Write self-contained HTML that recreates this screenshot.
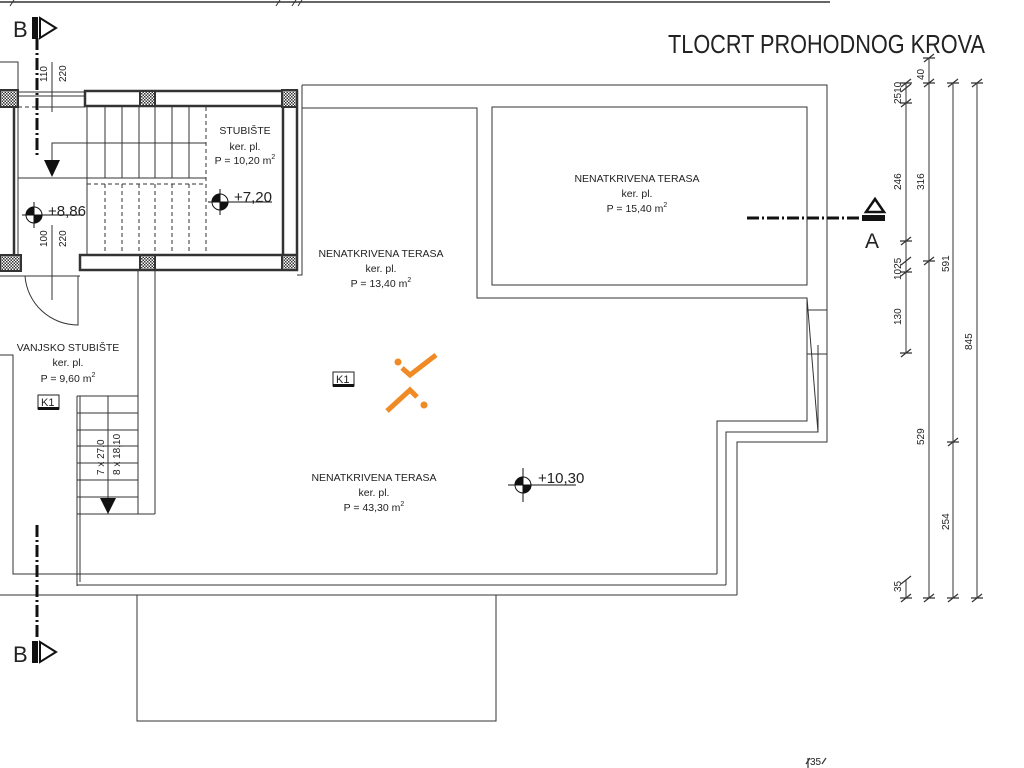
<!DOCTYPE html>
<html><head><meta charset="utf-8"><style>
html,body{margin:0;padding:0;background:#fff;}
svg{display:block;}
text{font-family:"Liberation Sans",sans-serif;fill:#222;}
</style></head><body>
<svg width="1024" height="768" viewBox="0 0 1024 768" xmlns="http://www.w3.org/2000/svg">
<defs>
<pattern id="h" width="3" height="3" patternUnits="userSpaceOnUse">
<rect width="3" height="3" fill="#fff"/><rect width="1.5" height="1.5" fill="#333"/><rect x="1.5" y="1.5" width="1.5" height="1.5" fill="#333"/>
</pattern>
</defs>
<g stroke="#333" fill="none" stroke-width="1">
<!-- top line -->
<line x1="0" y1="2" x2="830" y2="2" stroke-width="1.5"/>
<path d="M10,6 L14,0 M276,6 L280,0 M292,6 L296,0 M298,6 L302,0"/>
<!-- small left box -->
<path d="M0,62 H18 V92"/>
<!-- stair top wall -->
<rect x="85" y="91" width="212" height="15" stroke-width="2.5"/>
<line x1="18" y1="92" x2="85" y2="92"/><line x1="18" y1="96" x2="85" y2="96"/>
<rect x="0" y="90" width="18" height="17" fill="url(#h)" stroke-width="2"/>
<rect x="140" y="91" width="15" height="15" fill="url(#h)" stroke-width="2"/>
<rect x="282" y="90" width="15" height="17" fill="url(#h)" stroke-width="2"/>
<!-- left & right walls -->
<line x1="14" y1="107" x2="14" y2="254" stroke-width="2.5"/>
<line x1="18" y1="107" x2="18" y2="254"/>
<line x1="283" y1="107" x2="283" y2="254" stroke-width="2.5"/>
<line x1="297" y1="107" x2="297" y2="254" stroke-width="2.5"/>
<path d="M302,85 V275 H297"/>
<!-- bottom wall -->
<rect x="80" y="255" width="217" height="15" stroke-width="2.5"/>
<rect x="0" y="255" width="21" height="16" fill="url(#h)" stroke-width="2"/>
<rect x="140" y="255" width="15" height="15" fill="url(#h)" stroke-width="2"/>
<rect x="282" y="255" width="15" height="15" fill="url(#h)" stroke-width="2"/>
<line x1="0" y1="276" x2="80" y2="276"/>
<!-- stairs inside -->
<line x1="18" y1="107" x2="85" y2="107" stroke-dasharray="4,3"/>
<path d="M87,107 V178 M105,107 V178 M122,107 V178 M139,107 V178 M155,107 V178 M172,107 V178 M189,107 V178"/>
<line x1="87" y1="178" x2="87" y2="254"/>
<line x1="18" y1="178" x2="206" y2="178"/>
<line x1="206" y1="107" x2="206" y2="254" stroke-dasharray="4,3"/>
<line x1="87" y1="184" x2="206" y2="184" stroke-dasharray="4,3"/>
<path d="M105,184 V254 M122,184 V254 M139,184 V254 M155,184 V254 M172,184 V254 M189,184 V254" stroke-dasharray="4,3"/>
<path d="M52,160 V143 H206"/>
<!-- door -->
<path d="M25,276 A53,53 0 0 0 78,325 V276"/>
<!-- dim small -->
<path d="M52,62 V112 M43,107 H85"/>
<path d="M52,225 V300"/>
<!-- vertical wall below stairs -->
<line x1="138" y1="270" x2="138" y2="514"/>
<line x1="155" y1="270" x2="155" y2="514"/>
<line x1="138" y1="514" x2="155" y2="514"/>
<!-- exterior stair -->
<path d="M77,396 H138 M77,413 H138 M77,430 H138 M77,446 H138 M77,463 H138 M77,480 H138 M77,497 H138 M77,514 H138"/>
<line x1="108" y1="396" x2="108" y2="514"/>
<line x1="77" y1="396" x2="77" y2="586"/>
<line x1="80" y1="396" x2="80" y2="582"/>
<path d="M0,355 H13 V574 H717"/>
<path d="M77,585 H726"/>
<line x1="0" y1="595" x2="737" y2="595"/>
<rect x="137" y="595" width="359" height="126"/>
<!-- terrace -->
<path d="M302,85 H827 V442 H737 V595"/>
<path d="M302,108 H477 V298 H807 V421 H717 V574"/>
<path d="M818,345 V432 H726 V585"/>
<path d="M807,310 H827 M807,354 H827"/>
<path d="M807,298 L818,432"/>
<rect x="492" y="107" width="315" height="178"/>
<!-- dims right -->
<line x1="906" y1="83" x2="906" y2="353"/>
<line x1="906" y1="580" x2="906" y2="598"/>
<line x1="929" y1="58" x2="929" y2="598"/>
<line x1="953" y1="83" x2="953" y2="598"/>
<line x1="977" y1="83" x2="977" y2="598"/>
<g stroke-width="1.2">
<path d="M901,87 L911,79 M900,83 H912 M901,92 L911,84 M901,107 L911,99 M900,103 H912 M901,245 L911,237 M900,241 H912 M901,265 L911,257 M901,276 L911,268 M900,272 H912 M901,357 L911,349 M900,353 H912 M901,584 L911,576 M901,602 L911,594 M900,598 H912"/>
<path d="M924,62 L934,54 M923,58 H935 M924,87 L934,79 M923,83 H935 M924,265 L934,257 M923,261 H935 M924,602 L934,594 M923,598 H935"/>
<path d="M948,87 L958,79 M947,83 H959 M948,446 L958,438 M947,442 H959 M948,602 L958,594 M947,598 H959"/>
<path d="M972,87 L982,79 M971,83 H983 M972,602 L982,594 M971,598 H983"/>
<path d="M806,764 L810,758 M822,764 L826,758 M808,768 V758"/>
</g>
</g>
<!-- section lines -->
<g stroke="#111" stroke-width="3" fill="none" stroke-dasharray="12,3,2,3">
<line x1="37" y1="38" x2="37" y2="155"/>
<line x1="37" y1="525" x2="37" y2="640"/>
<line x1="747" y1="218" x2="862" y2="218"/>
</g>
<!-- B markers -->
<g>
<rect x="32" y="17" width="6" height="22" fill="#111"/>
<path d="M40,18 L56,28 L40,38 Z" fill="none" stroke="#111" stroke-width="2"/>
<text x="13" y="37" font-size="22">B</text>
<rect x="32" y="641" width="6" height="22" fill="#111"/>
<path d="M40,642 L56,652 L40,662 Z" fill="none" stroke="#111" stroke-width="2"/>
<text x="13" y="662" font-size="22">B</text>
<!-- A marker -->
<rect x="862" y="215" width="23" height="6" fill="#111"/>
<path d="M866,212 L875,199 L884,212 Z" fill="none" stroke="#111" stroke-width="2.5"/>
<text x="865" y="248" font-size="21">A</text>
</g>
<!-- arrows -->
<path d="M44,160 H60 L52,177 Z" fill="#111"/>
<path d="M100,498 H116 L108,514 Z" fill="#111"/>
<!-- level markers -->
<g stroke="#111" stroke-width="1">
<g transform="translate(34,215)"><circle r="8" fill="#fff"/><path d="M0,-8 A8,8 0 0 0 -8,0 H0 Z M0,8 A8,8 0 0 0 8,0 H0 Z" fill="#111"/><path d="M-12,0 H50 M0,-13 V13"/></g>
<g transform="translate(220,202)"><circle r="8" fill="#fff"/><path d="M0,-8 A8,8 0 0 0 -8,0 H0 Z M0,8 A8,8 0 0 0 8,0 H0 Z" fill="#111"/><path d="M-12,0 H52 M0,-13 V13"/></g>
<g transform="translate(523,485)"><circle r="8" fill="#fff"/><path d="M0,-8 A8,8 0 0 0 -8,0 H0 Z M0,8 A8,8 0 0 0 8,0 H0 Z" fill="#111"/><path d="M-15,0 H53 M0,-17 V17"/></g>
</g>
<text x="48" y="216" font-size="15">+8,86</text>
<text x="234" y="202" font-size="15">+7,20</text>
<text x="538" y="483" font-size="15">+10,30</text>
<!-- room labels -->
<g font-size="10.5" text-anchor="middle">
<text x="245" y="134">STUBIŠTE</text>
<text x="245" y="150">ker. pl.</text>
<text x="245" y="164">P = 10,20 m<tspan font-size="7" dy="-5">2</tspan></text>
<text x="68" y="351">VANJSKO STUBIŠTE</text>
<text x="68" y="366">ker. pl.</text>
<text x="68" y="382">P = 9,60 m<tspan font-size="7" dy="-5">2</tspan></text>
<text x="637" y="182">NENATKRIVENA TERASA</text>
<text x="637" y="197">ker. pl.</text>
<text x="637" y="212">P = 15,40 m<tspan font-size="7" dy="-5">2</tspan></text>
<text x="381" y="257">NENATKRIVENA TERASA</text>
<text x="381" y="272">ker. pl.</text>
<text x="381" y="287">P = 13,40 m<tspan font-size="7" dy="-5">2</tspan></text>
<text x="374" y="481">NENATKRIVENA TERASA</text>
<text x="374" y="496">ker. pl.</text>
<text x="374" y="511">P = 43,30 m<tspan font-size="7" dy="-5">2</tspan></text>
</g>
<!-- K1 tags -->
<g font-size="11">
<rect x="38" y="395" width="21" height="14" fill="none" stroke="#222"/><rect x="38" y="407" width="21" height="3" fill="#111"/><text x="41" y="406">K1</text>
<rect x="333" y="372" width="21" height="14" fill="none" stroke="#222"/><rect x="333" y="384" width="21" height="3" fill="#111"/><text x="336" y="383">K1</text>
</g>
<!-- dimension labels rotated -->
<g font-size="10" fill="#333">
<text transform="translate(47,82) rotate(-90)">110</text>
<text transform="translate(66,82) rotate(-90)">220</text>
<text transform="translate(47,247) rotate(-90)">100</text>
<text transform="translate(66,247) rotate(-90)">220</text>
<text transform="translate(104,475) rotate(-90)">7 x 27,0</text>
<text transform="translate(120,475) rotate(-90)">8 x 18,10</text>
<text transform="translate(924,80) rotate(-90)">40</text>
<text transform="translate(901,104) rotate(-90)">2510</text>
<text transform="translate(901,190) rotate(-90)">246</text>
<text transform="translate(924,190) rotate(-90)">316</text>
<text transform="translate(901,280) rotate(-90)">1025</text>
<text transform="translate(949,272) rotate(-90)">591</text>
<text transform="translate(901,325) rotate(-90)">130</text>
<text transform="translate(972,350) rotate(-90)">845</text>
<text transform="translate(924,445) rotate(-90)">529</text>
<text transform="translate(949,530) rotate(-90)">254</text>
<text transform="translate(901,592) rotate(-90)">35</text>
<text x="810" y="765">35</text>
</g>
<!-- title -->
<text x="668" y="53" font-size="26" textLength="317" lengthAdjust="spacingAndGlyphs">TLOCRT PROHODNOG KROVA</text>
<!-- logo -->
<g stroke="#f08a24" stroke-width="5" fill="none" stroke-linecap="butt">
<path d="M402,368 L410,375 L436,355"/>
<path d="M387,411 L410,390 L417,397"/>
</g>
<circle cx="398" cy="362" r="3.5" fill="#f08a24"/>
<circle cx="424" cy="405" r="3.5" fill="#f08a24"/>
</svg>
</body></html>
